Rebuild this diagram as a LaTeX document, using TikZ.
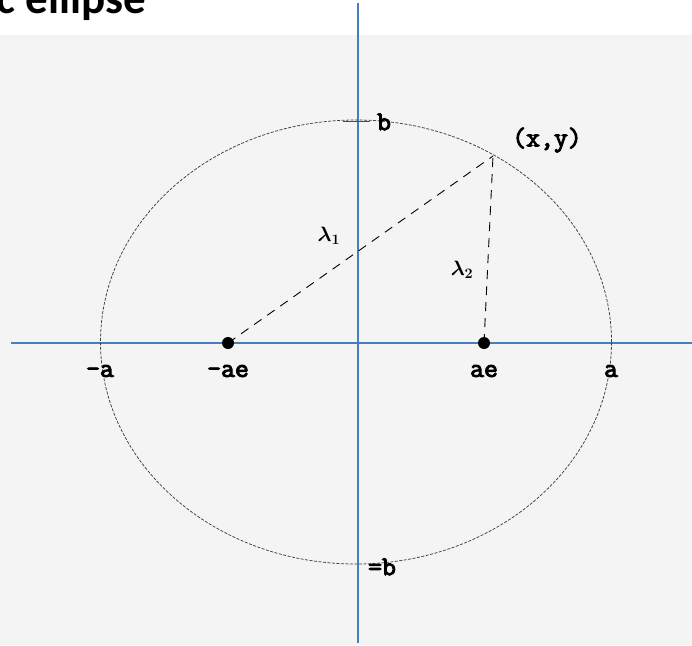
\documentclass[tikz,border=0pt]{standalone}
\usepackage{fontspec}
\newfontfamily\titlefont{Carlito}
\newfontfamily\lblfont[FakeBold=3.5]{Latin Modern Mono}
\definecolor{axisblue}{HTML}{4A7EBB}
\definecolor{bgg}{HTML}{F4F4F4}
\begin{document}
\begin{tikzpicture}[x=1pt,y=-1pt,
  lbl/.style={font=\lblfont\fontsize{27}{27}\selectfont, inner sep=0pt},
  lam/.style={font=\boldmath\fontsize{21}{21}\selectfont, inner sep=0pt},
  axisline/.style={draw=axisblue, line width=1.8pt},
  dsh/.style={draw=black, line width=0.9pt, dash pattern=on 9pt off 7pt},
  ell/.style={draw=black!75, line width=0.75pt, dash pattern=on 3pt off 1.5pt},
  tick/.style={draw=black!70, line width=0.9pt},
  focus/.style={circle, fill=black, inner sep=0pt, minimum size=12pt}]
\useasboundingbox (0,0) rectangle (692,645);
\clip (0,0) rectangle (692,645);
\fill[bgg] (0,35) rectangle (692,645);
\node[anchor=base east, font=\titlefont\bfseries\fontsize{45}{45}\selectfont, inner sep=0pt] (title) at (146,13) {c ellipse};
% axes
\coordinate (vt) at (358,3);
\coordinate (vb) at (358,643);
\coordinate (hl) at (11,343);
\coordinate (hr) at (692,343);
\draw[axisline] (vt) -- (vb);
\draw[axisline] (hl) -- (hr);
% ellipse
\draw[ell] (356,342) ellipse [x radius=255.5pt, y radius=222pt];
% tick at b
\coordinate (tk1) at (343,121);
\coordinate (tk2) at (370,121);
\draw[tick] (tk1) -- (tk2);
% foci and point
\coordinate (P) at (493,156);
\coordinate (F1c) at (228,343);
\coordinate (F2c) at (484,343);
\draw[dsh] (F1c) -- (P);
\draw[dsh] (F2c) -- (P);
\node[focus] (F1) at (F1c) {};
\node[focus] (F2) at (F2c) {};
% labels
\node[lbl] (lb) at (384,122) {b};
\node[lbl] (lmb) at (382,567) {=b};
\node[lbl] (lma) at (100,371) {-a};
\node[lbl] (lmae) at (228,371) {-ae};
\node[lbl] (lae) at (484,371) {ae};
\node[lbl] (la) at (611,371) {a};
\node[lbl] (lp) at (547,140) {(x,y)};
\node[lam] (l1) at (329,236) {$\lambda_1$};
\node[lam] (l2) at (462,270) {$\lambda_2$};
\end{tikzpicture}
\end{document}
